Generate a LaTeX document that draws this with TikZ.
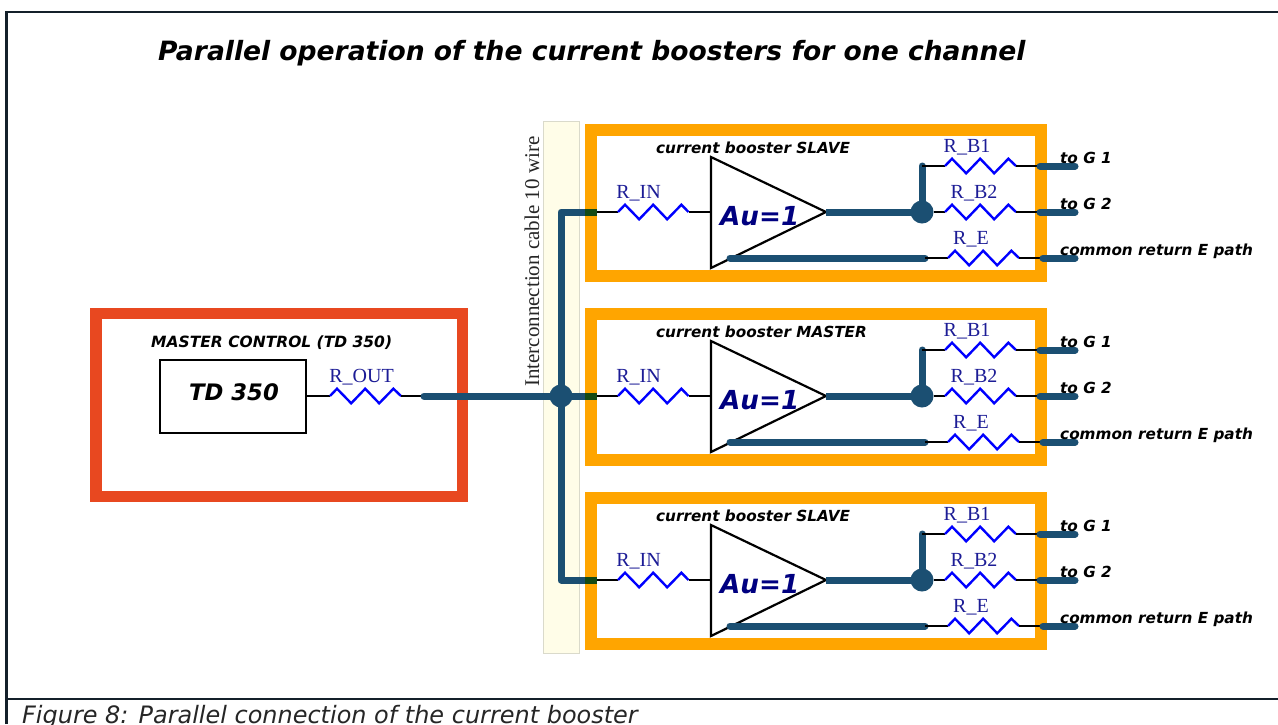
\documentclass[tikz,border=0pt]{standalone}
\usepackage{fontspec}
\setmainfont{Liberation Serif}
\newfontfamily\vfont{DejaVu Sans}
\definecolor{wireblue}{HTML}{1B4F72}
\definecolor{boxorange}{HTML}{FFA500}
\definecolor{boxred}{HTML}{E84820}
\definecolor{cream}{HTML}{FFFDE8}
\definecolor{stripedge}{HTML}{DADACB}
\definecolor{framedark}{HTML}{14202A}
\definecolor{lblue}{HTML}{1C1C96}
\definecolor{jointgreen}{HTML}{154A14}
\tikzset{
  wire/.style={draw=wireblue,line width=7pt,line cap=round,line join=round},
  thin wire/.style={draw=black,line width=2.2pt},
  resist/.style={draw=blue,line width=2.4pt,line join=miter},
  joint/.style={circle,fill=wireblue,minimum size=23pt,inner sep=0pt},
  rlabel/.style={font=\fontsize{20}{20}\selectfont,text=lblue,anchor=base,inner sep=0pt},
  blabel/.style={font=\vfont\bfseries\itshape\fontsize{15.25}{15.25}\selectfont,text=black,anchor=base west,inner sep=0pt},
  framel/.style={draw=framedark,line width=2.2pt},
}
\newcommand{\zig}[2]{\draw[resist] (#1) -- ++(7,-7.3) -- ++(14.2,14.6) -- ++(14,-14.6) -- ++(14,14.6) -- ++(14.2,-14.6) -- (#2);}
\begin{document}
\begin{tikzpicture}[x=1pt,y=-1pt]
\useasboundingbox[clip] (0,0) rectangle (1278,724);
\fill[white] (0,0) rectangle (1278,724);
% outer frame
\coordinate (ftl) at (6.5,12);
\coordinate (ftr) at (1278,12);
\coordinate (fbl) at (6.5,724);
\coordinate (fml) at (6.5,699);
\coordinate (fmr) at (1278,699);
\draw[framel] (fbl) -- (ftl) -- (ftr);
\draw[framel] (fml) -- (fmr);
\node[font=\vfont\bfseries\itshape\fontsize{26.55}{26.55}\selectfont,anchor=base west,inner sep=0pt] (title) at (158,60) {Parallel operation of the current boosters for one channel};
\node[font=\vfont\itshape\fontsize{23.95}{23.95}\selectfont,text=black!85,anchor=base west,inner sep=0pt] (caption) at (22,723.5) {Figure 8: Parallel connection of the current booster};
% cable strip
\draw[draw=stripedge,fill=cream,line width=1pt] (543,121) rectangle (579,653);
\node[font=\fontsize{21}{21}\selectfont,rotate=90,anchor=base west,inner sep=0pt,text=black!85] (cable) at (539,387) {Interconnection cable 10 wire};
% boosters
\foreach \n/\off/\who in {a/0/SLAVE,b/184/MASTER,c/368/SLAVE}{
\begin{scope}[yshift=-\off pt]
  \draw[boxorange,line width=12pt] (591,130) rectangle (1041,276);
  \fill[jointgreen] (585,208.5) rectangle (597,215.5);
  \coordinate (in\n) at (597,212);
  \coordinate (ri\n) at (618,212);
  \coordinate (rj\n) at (688.5,212);
  \coordinate (t1\n) at (711,157);
  \coordinate (t2\n) at (711,268);
  \coordinate (t3\n) at (826,212);
  \coordinate (ai\n) at (711,212);
  \draw[thin wire] (in\n) -- (ri\n);
  \zig{ri\n}{rj\n}
  \draw[thin wire] (rj\n) -- (ai\n);
  \draw[black,line width=2.2pt,line join=miter] (t1\n) -- (t2\n) -- (t3\n) -- cycle;
  \node[joint] (j\n) at (922,212) {};
  \coordinate (up\n) at (922,166);
  \draw[wire,line cap=butt] (t3\n) -- (j\n.center);
  \draw[wire] (j\n.center) -- (up\n);
  % R_B1
  \coordinate (b1a\n) at (945,166); \coordinate (b1b\n) at (1016,166);
  \coordinate (o1a\n) at (1040,166); \coordinate (o1b\n) at (1075,166);
  \draw[thin wire] (up\n) -- (b1a\n);
  \zig{b1a\n}{b1b\n}
  \draw[thin wire] (b1b\n) -- (o1a\n);
  \draw[wire] (o1a\n) -- (o1b\n);
  % R_B2
  \coordinate (b2a\n) at (945,212); \coordinate (b2b\n) at (1016,212);
  \coordinate (o2a\n) at (1040,212); \coordinate (o2b\n) at (1075,212);
  \draw[thin wire] (j\n) -- (b2a\n);
  \zig{b2a\n}{b2b\n}
  \draw[thin wire] (b2b\n) -- (o2a\n);
  \draw[wire] (o2a\n) -- (o2b\n);
  % R_E
  \coordinate (e0\n) at (730,258); \coordinate (e1\n) at (925,258);
  \coordinate (eaa\n) at (948,258); \coordinate (eab\n) at (1019,258);
  \coordinate (o3a\n) at (1043,258); \coordinate (o3b\n) at (1075,258);
  \draw[wire] (e0\n) -- (e1\n);
  \draw[thin wire] (e1\n) -- (eaa\n);
  \zig{eaa\n}{eab\n}
  \draw[thin wire] (eab\n) -- (o3a\n);
  \draw[wire] (o3a\n) -- (o3b\n);
  % labels
  \node[blabel] (name\n) at (656,153.5) {current booster \who};
  \node[font=\vfont\bfseries\itshape\fontsize{26.2}{26.2}\selectfont,text=blue!50!black,anchor=base west,inner sep=0pt] (au\n) at (720,225) {Au=1};
  \node[rlabel] (lin\n) at (638.5,198.3) {R\_IN};
  \node[rlabel] (lb1\n) at (967,152.3) {R\_B1};
  \node[rlabel] (lb2\n) at (974,198.3) {R\_B2};
  \node[rlabel] (le\n) at (971,244.3) {R\_E};
  \node[blabel] (tg1\n) at (1060,163) {to G 1};
  \node[blabel] (tg2\n) at (1060,209) {to G 2};
  \node[blabel] (ret\n) at (1060,255) {common return E path};
\end{scope}
}
% master control
\draw[boxred,line width=11.5pt] (96,313.5) rectangle (462.5,496.5);
\node[draw=black,line width=2.2pt,minimum width=146pt,minimum height=72.5pt,inner sep=0pt,anchor=north west] (td) at (159,359) {};
\node[font=\vfont\bfseries\itshape\fontsize{22.7}{22.7}\selectfont,anchor=base west,inner sep=0pt] (tdt) at (189,400) {TD 350};
\node[blabel,font=\vfont\bfseries\itshape\fontsize{15.5}{15.5}\selectfont] (mc) at (151,347) {MASTER CONTROL (TD 350)};
\coordinate (ra) at (330,396); \coordinate (rb) at (401,396); \coordinate (wa) at (424,396);
\draw[thin wire] (td.east |- ra) -- (ra);
\zig{ra}{rb}
\draw[thin wire] (rb) -- (wa);
\node[rlabel] (lout) at (361.5,382) {R\_OUT};
% bus
\node[joint] (hub) at (561,396) {};
\coordinate (bt) at (561,212); \coordinate (bb) at (561,580);
\coordinate (bm) at (585,396);
\draw[wire] (wa) -- (hub.center);
\draw[wire,line cap=butt] (hub.center) -- (bm);
\draw[wire,line cap=butt] (585,212) -- (bt) -- (bb) -- (585,580);
\end{tikzpicture}
\end{document}
